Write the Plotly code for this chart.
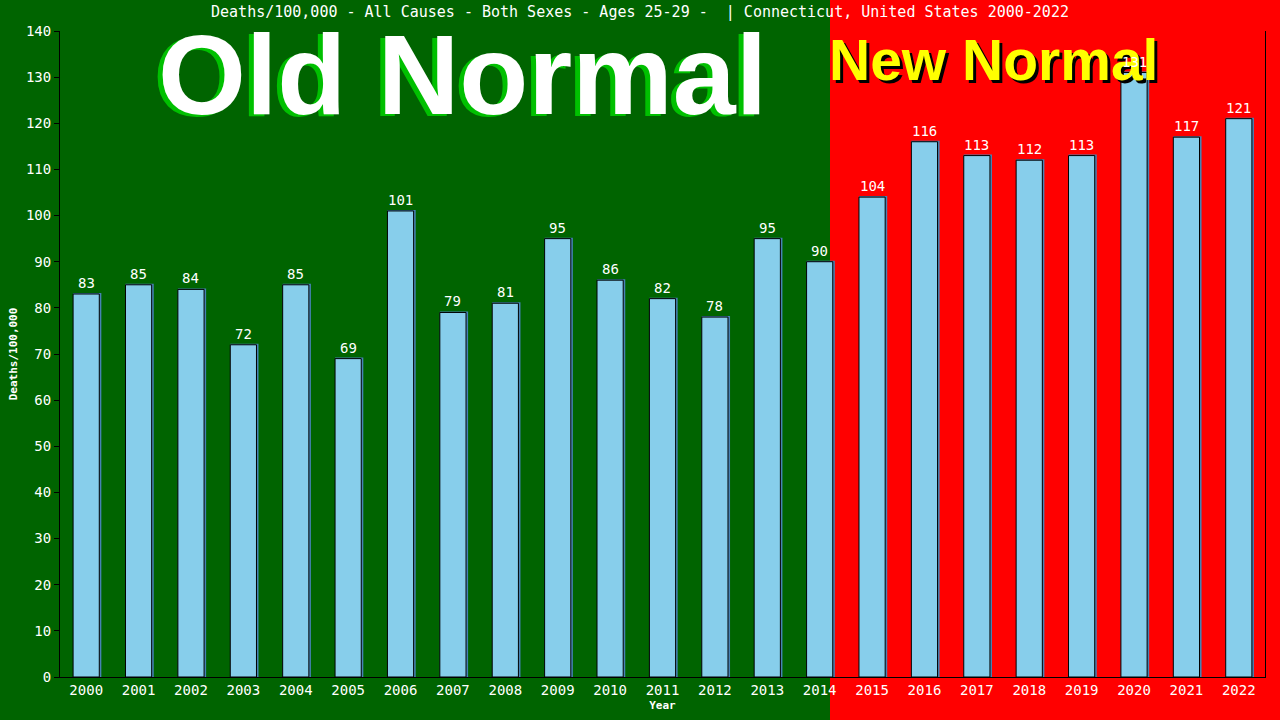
"""Deaths per 100,000, ages 25-29, Connecticut: old normal vs new normal bars."""
import plotly.graph_objects as go

YEARS = [str(y) for y in range(2000, 2023)]
DEATHS_PER_100K = [83, 85, 84, 72, 85, 69, 101, 79, 81, 95, 86, 82, 78, 95, 90,
                   104, 116, 113, 112, 113, 131, 117, 121]
Y_TICKS = list(range(0, 141, 10))

TITLE = "Deaths/100,000 - All Causes - Both Sexes - Ages 25-29 -  | Connecticut, United States 2000-2022"
GREEN = "#006400"
RED = "#ff0000"
MONO = "DejaVu Sans Mono"
BIG = "Liberation Sans"

fig = go.Figure()
# steelblue "shadow" behind each bar, nudged right by a pixel
fig.add_trace(go.Bar(
    x=YEARS, y=DEATHS_PER_100K, width=0.5, offset=-0.23,
    marker=dict(color="#4682b4", line=dict(color="#4682b4", width=2)),
    hoverinfo="skip", showlegend=False,
))
fig.add_trace(go.Bar(
    x=YEARS, y=DEATHS_PER_100K, width=0.5, offset=-0.25,
    marker=dict(color="#87ceeb", line=dict(color="black", width=1)),
    showlegend=False,
))

# red "new normal" half of the background
fig.add_shape(type="rect", xref="paper", yref="paper", x0=0.639, x1=1.1,
              y0=-0.2, y1=1.1, fillcolor=RED, line=dict(width=0), layer="below")

# big banner texts with their drop shadows
banner = dict(xref="paper", yref="paper", xanchor="center", yanchor="middle",
              showarrow=False)
fig.add_annotation(text="<b>Old Normal</b>", x=0.334, y=0.932, xshift=-5, yshift=-2,
                   font=dict(family=BIG, size=113, color="#00c000"), **banner)
fig.add_annotation(text="<b>Old Normal</b>", x=0.334, y=0.932,
                   font=dict(family=BIG, size=113, color="white"), **banner)
fig.add_annotation(text="<b>New Normal</b>", x=0.775, y=0.955, xshift=3, yshift=-3,
                   font=dict(family=BIG, size=57, color="black"), **banner)
fig.add_annotation(text="<b>New Normal</b>", x=0.775, y=0.955,
                   font=dict(family=BIG, size=57, color="yellow"), **banner)

# value labels go last so they sit on top of the banners
# (category axis: annotations take the category's serial number)
for i, value in enumerate(DEATHS_PER_100K):
    fig.add_annotation(x=i, y=value, text=str(value), showarrow=False,
                       xanchor="center", yanchor="bottom", yshift=1,
                       font=dict(family=MONO, size=14, color="white"))

fig.update_layout(
    width=1280, height=720, barmode="overlay",
    paper_bgcolor=GREEN, plot_bgcolor="rgba(0,0,0,0)",
    margin=dict(l=60, r=15, t=31, b=43),
    title=dict(text=TITLE, x=0.5, y=0.983, xanchor="center", yanchor="middle",
               font=dict(family=MONO, size=15, color="white")),
    xaxis=dict(type="category", showgrid=False, showline=True, linecolor="black",
               linewidth=1, ticks="", tickfont=dict(family=MONO, size=14, color="white"),
               title=dict(text="<b>Year</b>", standoff=4,
                          font=dict(family=MONO, size=11, color="white"))),
    yaxis=dict(range=[0, 140], tickvals=Y_TICKS, showgrid=False, zeroline=False,
               showline=True, linecolor="black", linewidth=1, mirror=True,
               ticks="outside", ticklen=5, tickcolor="black",
               tickfont=dict(family=MONO, size=14, color="white"),
               title=dict(text="<b>Deaths/100,000</b>", standoff=6,
                          font=dict(family=MONO, size=11, color="white"))),
)

fig.write_html("out.html", config={"displayModeBar": False},
               post_script="document.body.style.margin = '0';")
